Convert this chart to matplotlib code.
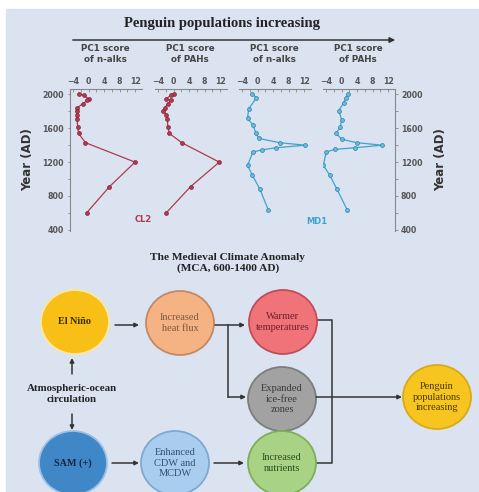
import numpy as np
import matplotlib
matplotlib.use("Agg")
import matplotlib.pyplot as plt
from matplotlib.patches import Ellipse, Rectangle

# ---------------- DATA ----------------
# CL2 core (red)
cl2_years = [2010, 1990, 1950, 1930, 1890, 1840, 1810, 1760, 1710, 1620, 1540, 1430, 1200, 910, 600]
cl2_nalk = [-2.5, -1.2, 0.0, -0.3, -1.5, -3.0, -3.1, -3.0, -3.0, -2.8, -2.6, -0.8, 12.0, 5.4, -0.5]
cl2_pah = [0.2, -0.7, -1.9, -0.7, -1.5, -2.3, -2.7, -1.9, -1.6, -1.5, -1.1, 2.1, 11.8, 4.4, -1.9]

# MD1 core (blue)
md1_years_a = [2010, 1960, 1830, 1720, 1640, 1550, 1480, 1430, 1400, 1370, 1345, 1320, 1160, 1050, 880, 630]
md1_nalk = [-1.4, -0.3, -2.3, -2.6, -1.2, -0.5, 0.3, 5.7, 12.3, 4.8, 1.2, -1.2, -2.6, -1.4, 0.6, 2.8]
md1_years_b = [2010, 1960, 1900, 1810, 1700, 1620, 1540, 1470, 1430, 1400, 1370, 1350, 1320, 1160, 1050, 880, 630]
md1_pah = [1.7, 1.2, 0.5, -0.7, 0.0, -0.3, -1.4, 0.0, 3.9, 10.5, 3.5, -1.8, -4.0, -4.7, -3.1, -1.2, 1.5]

col_titles = ["PC1 score\nof n-alks", "PC1 score\nof PAHs", "PC1 score\nof n-alks", "PC1 score\nof PAHs"]
x_ticks = [-4, 0, 4, 8, 12]
y_ticks = [400, 800, 1200, 1600, 2000]

# flowchart nodes: label, centre (px), fill, edge, text colour, bold
nodes = [
    ("El Niño", (75, 322), "#f8bf17", "#fbe7a0", "#3a2a00", True),
    ("Increased\nheat flux", (180, 323), "#f5b282", "#c08a68", "#7a5a45", False),
    ("Warmer\ntemperatures", (283, 322), "#f0737a", "#c04d58", "#6e1f2a", False),
    ("Expanded\nice-free\nzones", (282, 399), "#a2a2a2", "#7d7d7d", "#3a3a3a", False),
    ("Penguin\npopulations\nincreasing", (437, 397), "#f6c520", "#d9aa18", "#4a3a05", False),
    ("SAM (+)", (73, 463), "#3f87c7", "#9cc0e6", "#14263d", True),
    ("Enhanced\nCDW and\nMCDW", (175, 463), "#a9cdee", "#7fa8d0", "#35506e", False),
    ("Increased\nnutrients", (282, 463), "#a8d384", "#7fae5a", "#2f4a1f", False),
]

W, H = 479, 492
fig = plt.figure(figsize=(W / 100, H / 100), dpi=100)
fig.patch.set_facecolor("white")

# background / drawing axes in pixel units
bg = fig.add_axes([0, 0, 1, 1], zorder=0)
bg.set_xlim(0, W)
bg.set_ylim(H, 0)
bg.axis("off")
bg.add_patch(Rectangle((6, 9), W - 6, H - 9, color="#dbe3f1", zorder=0))

serif = "Liberation Serif"

# top title + arrow
bg.text(222, 24, "Penguin populations increasing", family=serif, weight="bold",
        fontsize=10.5, ha="center", va="center", color="#222")
bg.annotate("", xy=(398, 40), xytext=(70, 40),
            arrowprops=dict(arrowstyle="-|>", color="#333", lw=1.1, mutation_scale=8))

# ---------------- PANELS ----------------
def px_axes(x0, x1, y0, y1):
    return fig.add_axes([x0 / W, 1 - y1 / H, (x1 - x0) / W, (y1 - y0) / H], zorder=2)

panel_x = [(70, 142), (155, 227), (239, 311), (323, 395)]
series = [
    (cl2_years, cl2_nalk, "#b03a4e", "#b03a4e", "#8c2236"),
    (cl2_years, cl2_pah, "#b03a4e", "#b03a4e", "#8c2236"),
    (md1_years_a, md1_nalk, "#3fa3cc", "#6dbbdc", "#2b7fa8"),
    (md1_years_b, md1_pah, "#3fa3cc", "#6dbbdc", "#2b7fa8"),
]
tick_col = "#555555"

for i, ((x0, x1), (yrs, vals, lc, mfc, mec)) in enumerate(zip(panel_x, series)):
    ax = px_axes(x0, x1, 89, 231)
    ax.patch.set_alpha(0)
    ax.plot(vals, yrs, color=lc, lw=0.9, marker="o", ms=2.8, mfc=mfc, mec=mec, mew=0.5)
    ax.set_xlim(-4.8, 13.8)
    ax.set_ylim(385, 2065)
    for s in ax.spines.values():
        s.set_visible(False)
    ax.spines["top"].set_visible(True)
    ax.spines["top"].set_color("#888")
    ax.spines["top"].set_linewidth(0.8)
    ax.xaxis.tick_top()
    ax.set_xticks(x_ticks)
    ax.set_xticks(np.arange(-4, 13, 2), minor=True)
    ax.set_xticklabels(["\u22124", "0", "4", "8", "12"])
    ax.tick_params(axis="x", which="both", direction="in", length=1.8, width=0.6,
                   color="#888", labelsize=5.7, labelcolor=tick_col, pad=2)
    for t in ax.get_xticklabels():
        t.set_fontweight("bold")
    ax.set_yticks([])
    if i == 0 or i == 3:
        side = "left" if i == 0 else "right"
        ax.spines[side].set_visible(True)
        ax.spines[side].set_color("#888")
        ax.spines[side].set_linewidth(0.8)
        ax.yaxis.set_ticks_position(side)
        ax.set_yticks(y_ticks)
        ax.set_yticks(np.arange(400, 2001, 200), minor=True)
        ax.tick_params(axis="y", which="both", direction="out", length=1.8, width=0.6,
                       color="#888", labelsize=5.7, labelcolor=tick_col, pad=2.5)
        if side == "right":
            ax.yaxis.set_label_position("right")
        for t in ax.get_yticklabels():
            t.set_fontweight("bold")
        ax.set_ylabel("Year (AD)", fontsize=8.5, weight="bold", color="#333",
                      labelpad=6 if side == "left" else 8)
    bg.text((x0 + x1) / 2 - 1, 54, col_titles[i], ha="center", va="center",
            fontsize=6.3, weight="bold", color="#444", linespacing=1.2)

bg.text(143, 220, "CL2", color="#b03a4e", fontsize=6, weight="bold", ha="center", va="center")
bg.text(317, 221, "MD1", color="#3fa3cc", fontsize=6, weight="bold", ha="center", va="center")

# ---------------- FLOWCHART ----------------
bg.text(228, 257, "The Medieval Climate Anomaly", family=serif, weight="bold",
        fontsize=8.2, ha="center", va="center", color="#222")
bg.text(228, 268, "(MCA, 600-1400 AD)", family=serif, weight="bold",
        fontsize=8.2, ha="center", va="center", color="#222")

for label, (cx, cy), fc, ec, tc, bold in nodes:
    bg.add_patch(Ellipse((cx, cy), 68, 64, facecolor=fc, edgecolor=ec, lw=1.3, zorder=2))
    bg.text(cx, cy, label, family=serif, weight="bold" if bold else "normal",
            fontsize=7.3 if bold else 7.5, ha="center", va="center", color=tc,
            linespacing=1.2, zorder=3)

bg.text(72, 394, "Atmospheric-ocean\ncirculation", family=serif, weight="bold",
        fontsize=7.8, ha="center", va="center", color="#222", linespacing=1.4)

arrow_kw = dict(arrowstyle="-|>", color="#333", lw=1.1, mutation_scale=6, shrinkA=0, shrinkB=0)
line_kw = dict(color="#333", lw=1.1, zorder=1)

def arrow(p0, p1):
    bg.annotate("", xy=p1, xytext=p0, arrowprops=arrow_kw)

arrow((115, 325), (139, 325))
arrow((112, 463), (139, 463))
arrow((214, 463), (244, 463))
arrow((72, 374), (72, 358))
arrow((72, 414), (72, 430))
# heat flux -> warmer / ice-free
arrow((215, 325), (245, 325))
bg.plot([228, 228], [325, 397], **line_kw)
arrow((228, 397), (246, 397))
# warmer / nutrients bracket -> penguins
bg.plot([317, 332, 332, 317], [320, 320, 463, 463], **line_kw)
arrow((316, 397), (402, 397))

fig.savefig("out.png", dpi=100)
